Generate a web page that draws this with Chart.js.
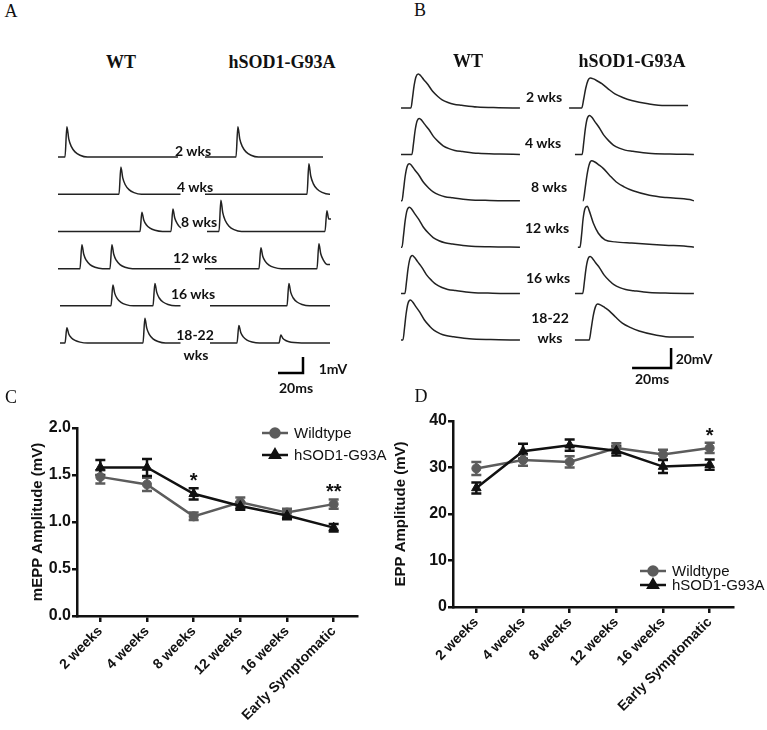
<!DOCTYPE html>
<html>
<head>
<meta charset="utf-8">
<script src="https://cdn.jsdelivr.net/npm/chart.js@4.4.0/dist/chart.umd.min.js"></script>
<style>
body { margin: 0; background: #fff; }
#fig { position: relative; width: 767px; height: 730px; overflow: hidden; background: #fff; }
canvas { position: absolute; }
.t { position: absolute; transform: translate(-50%, -50%); white-space: nowrap; color: #111; line-height: 1; }
.panel { font-family: "Liberation Serif", "Times New Roman", serif; font-size: 18px; }
.hdr { font-family: "Liberation Serif", "Times New Roman", serif; font-weight: bold; font-size: 18px; }
.lab { font-family: Lato, "Open Sans", sans-serif; font-weight: bold; font-size: 14px; }
</style>
</head>
<body>
<div id="fig">
  <canvas id="chartA" width="290" height="270" style="left:50px;top:110px"></canvas>
  <canvas id="chartB" width="305" height="320" style="left:395px;top:60px"></canvas>
  <canvas id="chartC" width="390" height="350" style="left:0px;top:380px"></canvas>
  <canvas id="chartD" width="377" height="350" style="left:390px;top:380px"></canvas>

  <div class="t panel" style="left:11px;top:11px">A</div>
  <div class="t hdr" style="left:121px;top:62px">WT</div>
  <div class="t hdr" style="left:282px;top:62px">hSOD1-G93A</div>
  <div class="t lab" style="left:193px;top:151px">2 wks</div>
  <div class="t lab" style="left:195px;top:187px">4 wks</div>
  <div class="t lab" style="left:199px;top:222px">8 wks</div>
  <div class="t lab" style="left:195px;top:258px">12 wks</div>
  <div class="t lab" style="left:193px;top:294px">16 wks</div>
  <div class="t lab" style="left:195px;top:335px">18-22</div>
  <div class="t lab" style="left:196px;top:355px">wks</div>
  <div class="t lab" style="left:333px;top:369px">1mV</div>
  <div class="t lab" style="left:296px;top:388px">20ms</div>

  <div class="t panel" style="left:420px;top:10px">B</div>
  <div class="t hdr" style="left:468px;top:61px">WT</div>
  <div class="t hdr" style="left:632px;top:61px">hSOD1-G93A</div>
  <div class="t lab" style="left:544px;top:97px">2 wks</div>
  <div class="t lab" style="left:543px;top:143px">4 wks</div>
  <div class="t lab" style="left:549px;top:187px">8 wks</div>
  <div class="t lab" style="left:547px;top:228px">12 wks</div>
  <div class="t lab" style="left:548px;top:278px">16 wks</div>
  <div class="t lab" style="left:550px;top:318px">18-22</div>
  <div class="t lab" style="left:550px;top:338px">wks</div>
  <div class="t lab" style="left:694px;top:359px">20mV</div>
  <div class="t lab" style="left:652px;top:379px">20ms</div>

  <div class="t panel" style="left:11px;top:397px">C</div>
  <div class="t panel" style="left:421px;top:396px">D</div>
</div>

<script>
// ---- Panels C and D: amplitudes (mean, SEM) ----
const weeks = ['2 weeks', '4 weeks', '8 weeks', '12 weeks', '16 weeks', 'Early Symptomatic'];
const seriesNames = ['Wildtype', 'hSOD1-G93A'];

const meppWT = [1.48, 1.40, 1.06, 1.21, 1.10, 1.19];
const meppWTerr = [0.07, 0.07, 0.04, 0.05, 0.04, 0.05];
const meppSOD = [1.58, 1.58, 1.30, 1.17, 1.07, 0.94];
const meppSODerr = [0.08, 0.09, 0.06, 0.04, 0.04, 0.04];
const meppStars = ['', '', '*', '', '', '**'];
const meppTicks = [0, 0.5, 1.0, 1.5, 2.0];

const eppWT = [29.8, 31.6, 31.2, 34.2, 32.8, 34.2];
const eppWTerr = [1.4, 1.2, 1.2, 1.0, 1.0, 1.1];
const eppSOD = [25.6, 33.5, 34.8, 33.6, 30.2, 30.6];
const eppSODerr = [1.2, 1.6, 1.2, 1.0, 1.4, 1.1];
const eppStars = ['', '', '', '', '', '*'];
const eppTicks = [0, 10, 20, 30, 40];

// ---- Panel A: mEPP traces (ms, mV) ----
// shape of one mEPP: [ms after onset, fraction of peak]
const meppShape = [[0, 0], [1.5, 1], [3, 0.6], [5, 0.35], [8, 0.17], [12, 0.06], [18, 0]];
const meppWTSpans = [[0, 96], [0, 98], [0, 98.5], [0, 98], [1.6, 98], [1.6, 98]];
const meppWTEvents = [
    [[5.6, 1.9]],
    [[48.8, 1.7]],
    [[65.6, 1.2], [90.4, 1.4]],
    [[17.6, 1.5], [41.6, 1.5]],
    [[42.4, 1.3], [76, 1.4]],
    [[5.6, 0.95], [68, 1.55]]
];
const meppSODSpans = [[0, 94.4], [0, 100], [1.6, 100.8], [0, 100], [4, 100], [4, 100]];
const meppSODEvents = [
    [[24.8, 1.9]],
    [[81.6, 1.9]],
    [[11.2, 1.95], [96, 1.3]],
    [[43.2, 1.3], [89.6, 1.55]],
    [[65.6, 1.4]],
    [[25.6, 1.1], [59.2, 0.5]]
];

// ---- Panel B: EPP traces (ms, mV) ----
const eppShapes = {
    wt:   [[0, 0], [0.8, 0.3], [1.6, 0.65], [2.6, 0.92], [3.8, 1], [5, 0.95], [6.5, 0.84], [8.7, 0.69], [11, 0.5],
           [13.8, 0.34], [16, 0.24], [19, 0.16], [22, 0.11], [26, 0.08], [34, 0.03], [45, 0.01]],
    slow: [[0, 0], [1, 0.3], [2, 0.65], [3.2, 0.92], [4.3, 1], [6, 0.97], [8, 0.9], [10.3, 0.81], [13.5, 0.64],
           [17, 0.47], [21, 0.35], [25.6, 0.25], [34, 0.14], [42.7, 0.08], [54.6, 0.03]],
    fast: [[0, 0], [0.8, 0.3], [1.6, 0.7], [2.6, 0.95], [3.7, 1], [4.8, 0.88], [6.8, 0.59], [9.4, 0.34], [12.8, 0.18],
           [18, 0.13], [26.5, 0.1], [43.6, 0.05], [57, 0.01]]
};
const eppWTSpans = [[0, 61], [0, 61], [0, 61], [0, 61], [0, 61], [0, 61]];
const eppWTOnsets = [5.1, 5.6, 0.5, 0.5, 2, 1];
const eppWTAmps = [34, 36, 37, 40, 38, 40];
const eppWTKinds = ['wt', 'wt', 'wt', 'wt', 'wt', 'wt'];
const eppSODSpans = [[0, 61], [3, 64], [7, 64], [4.5, 64], [3, 64], [3, 64]];
const eppSODOnsets = [6.5, 6.7, 7.2, 5.6, 7, 10.3];
const eppSODAmps = [30, 39, 40, 41, 37, 36];
const eppSODKinds = ['slow', 'wt', 'slow', 'fast', 'wt', 'slow'];

// ---- layout (axis windows, row spacing, scale bars) ----
const layoutA = { x: [-6.4, 225.6], y: [0, 16.875], rowBase: 2.31, rowGap: 2.325, colShift: 117.6,
                  bar: { x: 196, y: 0.44, ms: 20, mv: 1 } };
const layoutB = { x: [-3.08, 153.33], y: [0, 320], rowBase: 40, rowGap: 46.4, colShift: 86.2,
                  bar: { x: 138.5, y: 12, ms: 20, mv: 20 } };

Chart.defaults.font.family = '"Liberation Sans", Arial, sans-serif';
Chart.defaults.color = '#111';

const grayCol = '#5c5c5c';
const blackCol = '#111111';

function rowBaseline(lay, k) {
    return lay.rowBase + (5 - k) * lay.rowGap;
}

// put a shape at each event onset along a flat baseline
function buildTrace(span, events, shift, base) {
    const pts = [{ x: span[0] + shift, y: base }];
    let complete = true;
    events.forEach(ev => {
        const onset = ev[0], amp = ev[1], shape = ev[2];
        shape.forEach(p => {
            const t = onset + p[0];
            if (t <= span[1]) pts.push({ x: t + shift, y: base + amp * p[1] });
            else complete = false;
        });
    });
    // trace runs on to the end of its sweep
    const last = pts[pts.length - 1];
    pts.push({ x: span[1] + shift, y: complete ? base : last.y });
    return pts;
}

function traceSet(data) {
    return { data: data, borderColor: '#222', borderWidth: 1.5, pointRadius: 0, clip: false,
             cubicInterpolationMode: 'monotone' };
}

function scaleBarSet(bar) {
    return { data: [{ x: bar.x - bar.ms, y: bar.y }, { x: bar.x, y: bar.y }, { x: bar.x, y: bar.y + bar.mv }],
             borderColor: '#000', borderWidth: 2.5, pointRadius: 0, tension: 0, clip: false };
}

function traceChart(id, datasets, lay) {
    new Chart(document.getElementById(id), {
        type: 'line',
        data: { datasets: datasets },
        options: {
            responsive: false,
            animation: false,
            events: [],
            layout: { padding: 0 },
            plugins: { legend: { display: false }, tooltip: { enabled: false } },
            scales: {
                x: { type: 'linear', display: false, min: lay.x[0], max: lay.x[1] },
                y: { type: 'linear', display: false, min: lay.y[0], max: lay.y[1] }
            }
        }
    });
}

// Panel A
const setsA = [];
for (let k = 0; k < 6; k++) {
    const base = rowBaseline(layoutA, k);
    setsA.push(traceSet(buildTrace(meppWTSpans[k], meppWTEvents[k].map(e => [e[0], e[1], meppShape]), 0, base)));
    setsA.push(traceSet(buildTrace(meppSODSpans[k], meppSODEvents[k].map(e => [e[0], e[1], meppShape]), layoutA.colShift, base)));
}
setsA.push(scaleBarSet(layoutA.bar));
traceChart('chartA', setsA, layoutA);

// Panel B
const setsB = [];
for (let k = 0; k < 6; k++) {
    const base = rowBaseline(layoutB, k);
    setsB.push(traceSet(buildTrace(eppWTSpans[k], [[eppWTOnsets[k], eppWTAmps[k], eppShapes[eppWTKinds[k]]]], 0, base)));
    setsB.push(traceSet(buildTrace(eppSODSpans[k], [[eppSODOnsets[k], eppSODAmps[k], eppShapes[eppSODKinds[k]]]], layoutB.colShift, base)));
}
setsB.push(scaleBarSet(layoutB.bar));
traceChart('chartB', setsB, layoutB);

// ---- plugins for C / D ----
const errorBars = {
    id: 'errorBars',
    beforeDatasetsDraw(chart, args, opts) {
        const ctx = chart.ctx, x = chart.scales.x, y = chart.scales.y;
        chart.data.datasets.forEach(ds => {
            ctx.save();
            ctx.strokeStyle = ds.borderColor;
            ctx.lineWidth = opts.width;
            ds.data.forEach((v, i) => {
                const px = x.getPixelForValue(i);
                const top = y.getPixelForValue(v + ds.errors[i]);
                const bot = y.getPixelForValue(v - ds.errors[i]);
                ctx.beginPath();
                ctx.moveTo(px, top); ctx.lineTo(px, bot);
                ctx.moveTo(px - opts.cap, top); ctx.lineTo(px + opts.cap, top);
                ctx.moveTo(px - opts.cap, bot); ctx.lineTo(px + opts.cap, bot);
                ctx.stroke();
            });
            ctx.restore();
        });
    }
};

const stars = {
    id: 'stars',
    afterDatasetsDraw(chart, args, opts) {
        const ctx = chart.ctx, x = chart.scales.x, y = chart.scales.y;
        ctx.save();
        ctx.font = 'bold 20px "Liberation Sans", Arial, sans-serif';
        ctx.fillStyle = '#111';
        ctx.textAlign = 'center';
        ctx.textBaseline = 'alphabetic';
        opts.labels.forEach((s, i) => {
            if (!s) return;
            let top = Infinity;
            chart.data.datasets.forEach(ds => {
                top = Math.min(top, y.getPixelForValue(ds.data[i] + ds.errors[i]));
            });
            ctx.fillText(s, x.getPixelForValue(i), top - opts.gap + 11);
        });
        ctx.restore();
    }
};

const figLegend = {
    id: 'figLegend',
    afterDraw(chart, args, opts) {
        const ctx = chart.ctx, area = chart.chartArea;
        ctx.save();
        chart.data.datasets.forEach((ds, i) => {
            const x0 = area.left + opts.x, yy = area.top + opts.y + i * opts.gap;
            ctx.strokeStyle = ds.borderColor;
            ctx.fillStyle = ds.borderColor;
            ctx.lineWidth = 2.5;
            ctx.beginPath();
            ctx.moveTo(x0, yy); ctx.lineTo(x0 + 26, yy);
            ctx.stroke();
            Chart.helpers.drawPoint(ctx, { pointStyle: ds.pointStyle, radius: ds.pointRadius, rotation: 0, borderWidth: 1 }, x0 + 13, yy);
            ctx.fillStyle = '#111';
            ctx.font = '15px "Liberation Sans", Arial, sans-serif';
            ctx.textAlign = 'left';
            ctx.textBaseline = 'middle';
            ctx.fillText(ds.label, x0 + 32, yy + 1);
        });
        ctx.restore();
    }
};

function amplitudeChart(id, wt, wtErr, sod, sodErr, ticks, starLabels, cfg) {
    new Chart(document.getElementById(id), {
        type: 'line',
        data: {
            labels: weeks,
            datasets: [
                { label: seriesNames[0], data: wt, errors: wtErr, order: 1,
                  borderColor: grayCol, backgroundColor: grayCol, pointBackgroundColor: grayCol, pointBorderColor: grayCol,
                  borderWidth: 2.5, pointStyle: 'circle', pointRadius: 4.5, pointBorderWidth: 1, tension: 0 },
                { label: seriesNames[1], data: sod, errors: sodErr, order: 0,
                  borderColor: blackCol, backgroundColor: blackCol, pointBackgroundColor: blackCol, pointBorderColor: blackCol,
                  borderWidth: 2.5, pointStyle: 'triangle', pointRadius: 5.5, pointBorderWidth: 1, tension: 0 }
            ]
        },
        options: {
            responsive: false,
            animation: false,
            events: [],
            layout: { padding: { top: cfg.padTop, right: cfg.padRight, left: 0, bottom: 0 } },
            plugins: {
                legend: { display: false },
                tooltip: { enabled: false },
                errorBars: { width: 2.5, cap: 5 },
                stars: { labels: starLabels, gap: 12 },
                figLegend: { x: cfg.legX, y: cfg.legY, gap: cfg.legGap }
            },
            scales: {
                x: {
                    type: 'category',
                    offset: true,
                    grid: { display: true, drawOnChartArea: false, drawTicks: true, tickLength: 6, color: '#111', lineWidth: 2.5 },
                    border: { display: true, color: '#111', width: 2.5 },
                    ticks: { minRotation: 45, maxRotation: 45, padding: 1, color: '#111', font: { size: 14, weight: 'bold' } },
                    afterFit: s => { s.height = cfg.xHeight; }
                },
                y: {
                    type: 'linear',
                    min: ticks[0],
                    max: ticks[ticks.length - 1],
                    afterBuildTicks: s => { s.ticks = ticks.map(v => ({ value: v })); },
                    grid: { display: true, drawOnChartArea: false, drawTicks: true, tickLength: 5, color: '#111', lineWidth: 2.5 },
                    border: { display: true, color: '#111', width: 2.5 },
                    ticks: { padding: 1, color: '#111', font: { size: 16, weight: 'bold' }, callback: v => cfg.fmt(v) },
                    title: { display: true, text: cfg.title, color: '#111', font: { size: 15, weight: 'bold' },
                             padding: { top: cfg.titlePad, bottom: 0 } },
                    afterFit: s => { s.width = cfg.yWidth; }
                }
            }
        },
        plugins: [errorBars, stars, figLegend]
    });
}

amplitudeChart('chartC', meppWT, meppWTerr, meppSOD, meppSODerr, meppTicks, meppStars, {
    padTop: 48, padRight: 33, yWidth: 77, xHeight: 114, titlePad: 29,
    title: 'mEPP Amplitude (mV)', fmt: v => v.toFixed(1),
    legX: 185, legY: 5, legGap: 22
});

amplitudeChart('chartD', eppWT, eppWTerr, eppSOD, eppSODerr, eppTicks, eppStars, {
    padTop: 41, padRight: 34, yWidth: 63, xHeight: 123, titlePad: 2,
    title: 'EPP Amplitude (mV)', fmt: v => String(v),
    legX: 187, legY: 150, legGap: 14
});
</script>
</body>
</html>
